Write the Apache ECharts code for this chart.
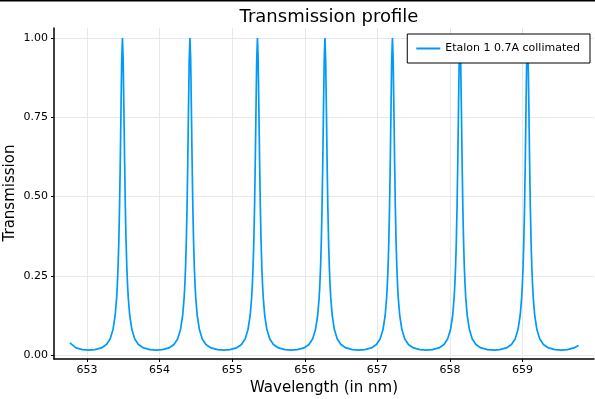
<!DOCTYPE html>
<html>
<head>
<meta charset="utf-8">
<script src="https://cdn.jsdelivr.net/npm/echarts@6/dist/echarts.min.js"></script>
<style>html,body{margin:0;padding:0;background:#fff;}#c{width:595px;height:399px;}</style>
</head>
<body>
<div id="c"></div>
<script>
const title = "Transmission profile";
const seriesName = "Etalon 1 0.7A collimated";
const xName = "Wavelength (in nm)";
const yName = "Transmission";
const xTicks = [653, 654, 655, 656, 657, 658, 659];
const yTicks = [0, 0.25, 0.5, 0.75, 1.0];

const wavelength = [
652.764,652.778,652.848,652.938,653.023,
653.108,653.198,653.268,653.318,653.358,653.388,653.408,653.418,653.428,653.438,653.448,653.458,653.468,653.478,653.488,653.498,653.508,653.518,653.528,653.538,653.548,653.558,653.568,653.588,653.618,653.658,653.708,653.778,653.868,653.953,
654.038,654.128,654.198,654.248,654.288,654.318,654.338,654.348,654.358,654.368,654.378,654.388,654.398,654.408,654.418,654.428,654.438,654.448,654.458,654.468,654.478,654.488,654.498,654.518,654.548,654.588,654.638,654.708,654.798,654.883,
654.968,655.058,655.128,655.178,655.218,655.248,655.268,655.278,655.288,655.298,655.308,655.318,655.328,655.338,655.348,655.358,655.368,655.378,655.388,655.398,655.408,655.418,655.428,655.448,655.478,655.518,655.568,655.638,655.728,655.813,
655.898,655.988,656.058,656.108,656.148,656.178,656.198,656.208,656.218,656.228,656.238,656.248,656.258,656.268,656.278,656.288,656.298,656.308,656.318,656.328,656.338,656.348,656.358,656.378,656.408,656.448,656.498,656.568,656.658,656.743,
656.828,656.918,656.988,657.038,657.078,657.108,657.128,657.138,657.148,657.158,657.168,657.178,657.188,657.198,657.208,657.218,657.228,657.238,657.248,657.258,657.268,657.278,657.288,657.308,657.338,657.378,657.428,657.498,657.588,657.673,
657.758,657.848,657.918,657.968,658.008,658.038,658.058,658.068,658.078,658.088,658.098,658.108,658.118,658.128,658.138,658.148,658.158,658.168,658.178,658.188,658.198,658.208,658.218,658.238,658.268,658.308,658.358,658.428,658.518,658.603,
658.688,658.778,658.848,658.898,658.938,658.968,658.988,658.998,659.008,659.018,659.028,659.038,659.048,659.058,659.068,659.078,659.088,659.098,659.108,659.118,659.128,659.138,659.148,659.168,659.198,659.238,659.288,659.358,659.448,659.533,
659.618,659.708,659.772
];

const transmission = [
0.0380,0.0333,0.0223,0.0168,0.0155,
0.0168,0.0223,0.0333,0.0507,0.0801,0.1254,0.1810,0.2230,0.2799,0.3579,0.4646,0.6061,0.7756,0.9324,1.0000,0.9324,0.7756,0.6061,0.4646,0.3579,0.2799,0.2230,0.1810,0.1254,0.0801,0.0507,0.0333,0.0223,0.0168,0.0155,
0.0168,0.0223,0.0333,0.0507,0.0801,0.1254,0.1810,0.2230,0.2799,0.3579,0.4646,0.6061,0.7756,0.9324,1.0000,0.9324,0.7756,0.6061,0.4646,0.3579,0.2799,0.2230,0.1810,0.1254,0.0801,0.0507,0.0333,0.0223,0.0168,0.0155,
0.0168,0.0223,0.0333,0.0507,0.0801,0.1254,0.1810,0.2230,0.2799,0.3579,0.4646,0.6061,0.7756,0.9324,1.0000,0.9324,0.7756,0.6061,0.4646,0.3579,0.2799,0.2230,0.1810,0.1254,0.0801,0.0507,0.0333,0.0223,0.0168,0.0155,
0.0168,0.0223,0.0333,0.0507,0.0801,0.1254,0.1810,0.2230,0.2799,0.3579,0.4646,0.6061,0.7756,0.9324,1.0000,0.9324,0.7756,0.6061,0.4646,0.3579,0.2799,0.2230,0.1810,0.1254,0.0801,0.0507,0.0333,0.0223,0.0168,0.0155,
0.0168,0.0223,0.0333,0.0507,0.0801,0.1254,0.1810,0.2230,0.2799,0.3579,0.4646,0.6061,0.7756,0.9324,1.0000,0.9324,0.7756,0.6061,0.4646,0.3579,0.2799,0.2230,0.1810,0.1254,0.0801,0.0507,0.0333,0.0223,0.0168,0.0155,
0.0168,0.0223,0.0333,0.0507,0.0801,0.1254,0.1810,0.2230,0.2799,0.3579,0.4646,0.6061,0.7756,0.9324,1.0000,0.9324,0.7756,0.6061,0.4646,0.3579,0.2799,0.2230,0.1810,0.1254,0.0801,0.0507,0.0333,0.0223,0.0168,0.0155,
0.0168,0.0223,0.0333,0.0507,0.0801,0.1254,0.1810,0.2230,0.2799,0.3579,0.4646,0.6061,0.7756,0.9324,1.0000,0.9324,0.7756,0.6061,0.4646,0.3579,0.2799,0.2230,0.1810,0.1254,0.0801,0.0507,0.0333,0.0223,0.0168,0.0155,
0.0168,0.0223,0.0300
];

const points = wavelength.map((w, i) => [w, transmission[i]]);
const font = "DejaVu Sans";
const chart = echarts.init(document.getElementById('c'), null, { renderer: 'canvas' });
chart.setOption({
  animation: false,
  backgroundColor: '#ffffff',
  title: {
    text: title, left: 324, top: 3, textAlign: 'center',
    textStyle: { fontFamily: font, fontSize: 18, fontWeight: 'normal', color: '#000' }
  },
  legend: {
    right: 5, top: 34, orient: 'vertical',
    backgroundColor: '#fff', borderColor: '#000', borderWidth: 1,
    padding: [9, 10, 9, 9], itemWidth: 24, itemHeight: 2, itemGap: 0,
    icon: 'rect',
    textStyle: { fontFamily: font, fontSize: 11, color: '#000' },
    data: [seriesName]
  },
  grid: { left: 54, right: 1, top: 28, bottom: 40, containLabel: false, outerBoundsMode: 'none' },
  xAxis: {
    type: 'value', min: 652.545, max: 659.985,
    name: xName, nameLocation: 'middle', nameGap: 22,
    nameTextStyle: { fontFamily: font, fontSize: 15, color: '#000' },
    axisLine: { show: true, onZero: false, lineStyle: { color: '#000', width: 1.5 } },
    axisTick: { show: true, length: 3, inside: false, customValues: xTicks, lineStyle: { color: '#000' } },
    axisLabel: { customValues: xTicks, fontFamily: font, fontSize: 11, color: '#000', margin: 6, formatter: v => String(Math.round(v)) },
    splitLine: { show: true, lineStyle: { color: '#e8e8e8', width: 1 } }
  },
  yAxis: {
    type: 'value', min: -0.0126, max: 1.0315,
    axisLine: { show: true, onZero: false, lineStyle: { color: '#000', width: 1.5 } },
    axisTick: { show: true, length: 3, inside: false, customValues: yTicks, lineStyle: { color: '#000' } },
    axisLabel: { customValues: yTicks, fontFamily: font, fontSize: 11, color: '#000', margin: 6, formatter: v => v.toFixed(2) },
    splitLine: { show: true, lineStyle: { color: '#e8e8e8', width: 1 } }
  },
  graphic: [
    { type: 'rect', left: 0, top: 0, shape: { width: 595, height: 1.5 }, style: { fill: '#000' } },
    { type: 'text', x: 10, y: 193, rotation: Math.PI / 2,
      style: { text: yName, font: '15px "DejaVu Sans"', fill: '#000', align: 'center', verticalAlign: 'middle' } }
  ],
  series: [{
    name: seriesName, type: 'line', data: points, showSymbol: false,
    lineStyle: { color: '#009AFA', width: 1.7 }, itemStyle: { color: '#009AFA' }
  }]
});
</script>
</body>
</html>
